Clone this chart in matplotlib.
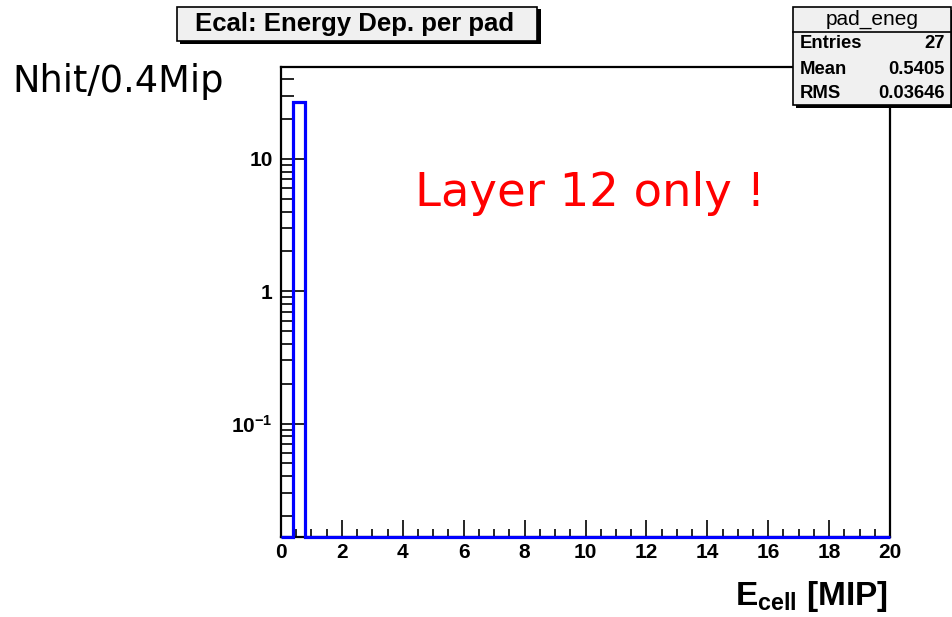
import numpy as np
import matplotlib.pyplot as plt
from matplotlib.patches import Rectangle
from matplotlib.ticker import LogLocator, FixedLocator, FixedFormatter, MultipleLocator

plt.rcParams['mathtext.fontset'] = 'custom'
plt.rcParams['mathtext.rm'] = 'Liberation Sans:bold'
plt.rcParams['mathtext.bf'] = 'Liberation Sans:bold'
plt.rcParams['mathtext.it'] = 'Liberation Sans:bold'

# histogram: 50 bins of 0.4 MIP from 0 to 20
bin_edges = np.arange(0, 20.0001, 0.4)
counts = np.zeros(50)
counts[1] = 27          # only bin 0.4-0.8 is filled

entries = 27
mean = 0.5405
rms = 0.03646

ymin, ymax = 0.0139, 49.4

W, H = 953, 617
fig = plt.figure(figsize=(W / 100, H / 100), dpi=100)
ax = fig.add_axes([281 / W, 1 - 537 / H, (890 - 281) / W, (537 - 67) / H])

vals = np.where(counts > 0, counts, ymin)
ax.stairs(vals, bin_edges, baseline=ymin, color=(0, 0, 1), lw=2.3, zorder=3, clip_on=False)

ax.set_yscale('log')
ax.set_xlim(0, 20)
ax.set_ylim(ymin, ymax)

for s in ax.spines.values():
    s.set_linewidth(1.6)
    s.set_zorder(2)

ax.xaxis.set_major_locator(MultipleLocator(2))
ax.xaxis.set_minor_locator(MultipleLocator(0.5))
ax.yaxis.set_major_locator(FixedLocator([0.1, 1, 10]))
ax.yaxis.set_major_formatter(FixedFormatter(['$10^{-1}$', '1', '10']))
ax.yaxis.set_minor_locator(LogLocator(base=10, subs=np.arange(2, 10)))
ax.yaxis.set_minor_formatter(FixedFormatter([]))
ax.tick_params(which='both', direction='in', width=1.2, color='black')
ax.tick_params(axis='x', which='major', length=12, pad=4)
ax.tick_params(axis='x', which='minor', length=6)
ax.tick_params(axis='y', which='major', length=18, pad=6)
ax.tick_params(axis='y', which='minor', length=9)
for lab in ax.get_xticklabels() + ax.get_yticklabels():
    lab.set_fontfamily('Liberation Sans')
    lab.set_fontweight('bold')
    lab.set_fontsize(15)

# x axis title, right aligned
fig.text(888 / W, 1 - 596 / H, '$E_{cell}$ [MIP]', ha='right', va='center',
         fontsize=24, fontweight='bold', family='Liberation Sans')

# y axis title
fig.text(12 / W, 1 - 82 / H, 'Nhit/0.4Mip', ha='left', va='center',
         fontsize=26.5, family='DejaVu Sans')

ax.text(415 / W, 1 - 193 / H, 'Layer 12 only !', transform=fig.transFigure,
        ha='left', va='center', fontsize=33.5, color='red', family='DejaVu Sans')

# title box with shadow
fig.patches.append(Rectangle((180 / W, 1 - 44 / H), (538 - 177) / W, (42 - 7) / H,
                             transform=fig.transFigure, fc='black', ec='none', zorder=5))
fig.patches.append(Rectangle((177 / W, 1 - 41 / H), (537 - 177) / W, (41 - 7) / H,
                             transform=fig.transFigure, fc='#f0f0f0', ec='black', lw=1.2, zorder=6))
fig.text(355 / W, 1 - 24 / H, 'Ecal: Energy Dep. per pad', ha='center', va='center',
         fontsize=18.5, fontweight='bold', family='Liberation Sans', zorder=7)

# stats box
bx0, bx1, by0, by1 = 793, 951, 7, 105
fig.patches.append(Rectangle(((bx0 + 3) / W, 1 - (by1 + 3) / H), (bx1 - bx0) / W, (by1 - by0) / H,
                             transform=fig.transFigure, fc='black', ec='none', zorder=5))
fig.patches.append(Rectangle((bx0 / W, 1 - by1 / H), (bx1 - bx0) / W, (by1 - by0) / H,
                             transform=fig.transFigure, fc='#f0f0f0', ec='black', lw=1.2, zorder=6))
fig.lines.append(plt.Line2D([bx0 / W, bx1 / W], [1 - 32 / H, 1 - 32 / H],
                            transform=fig.transFigure, color='black', lw=1.2, zorder=7))
fig.text((bx0 + bx1) / 2 / W, 1 - 19 / H, 'pad_eneg', ha='center', va='center',
         fontsize=15, family='Liberation Sans', zorder=7)
rows = [('Entries', f'{entries}'), ('Mean', f'{mean}'), ('RMS', f'{rms}')]
for i, (name, val) in enumerate(rows):
    yy = 1 - (44 + 25 * i) / H
    fig.text(800 / W, yy, name, ha='left', va='center', fontsize=13.3,
             fontweight='bold', family='Liberation Sans', zorder=7)
    fig.text(945 / W, yy, val, ha='right', va='center', fontsize=13.3,
             fontweight='bold', family='Liberation Sans', zorder=7)

fig.savefig('out.png', dpi=100)
